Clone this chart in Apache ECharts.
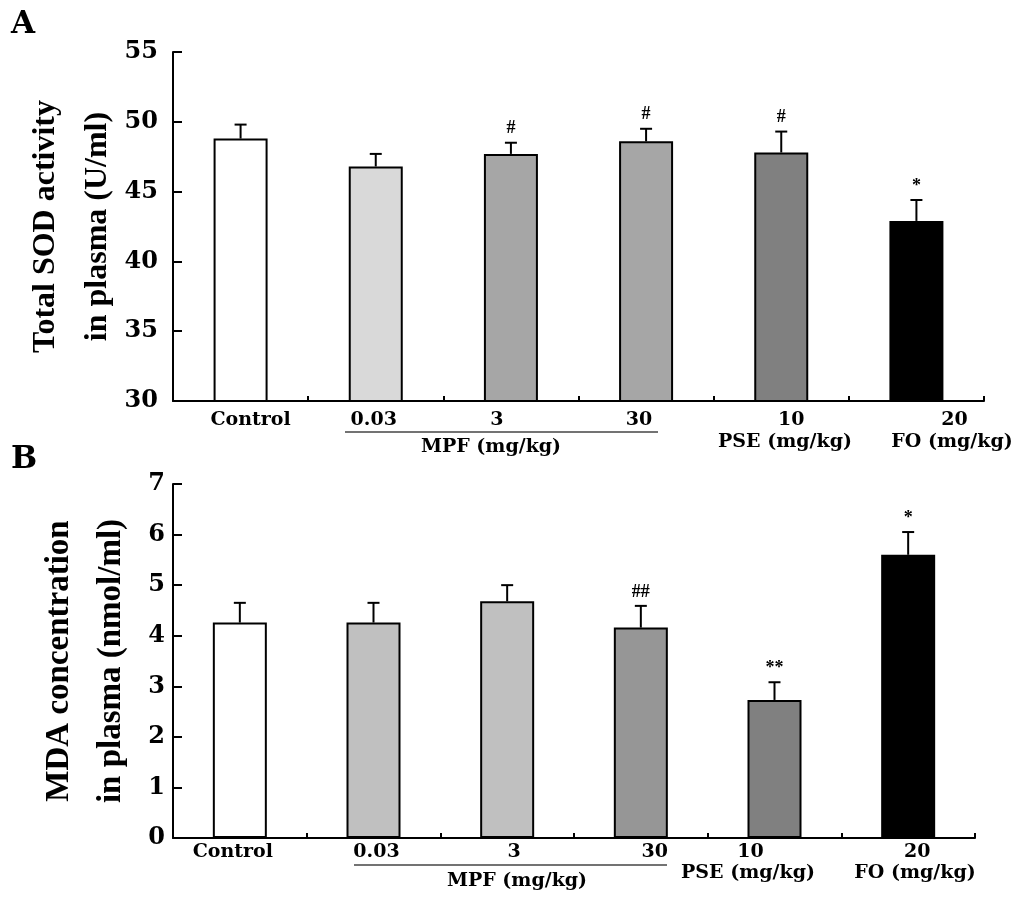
<!DOCTYPE html>
<html>
<head>
<meta charset="utf-8">
<script src="https://cdn.jsdelivr.net/npm/echarts@6/dist/echarts.min.js"></script>
<style>
  html, body { margin: 0; padding: 0; background: #fff; }
  #chart { width: 1024px; height: 904px; }
</style>
</head>
<body>
<div id="chart"></div>
<script>
// categories and values
const catsA = ["Control", "0.03", "3", "30", "10", "20"];
const sodMean = [48.8, 46.8, 47.7, 48.6, 47.8, 42.9];
const sodErr = [1.0, 0.9, 0.8, 0.9, 1.5, 1.5];
const sodMarks = ["", "", "#", "#", "#", "*"];

const catsB = ["Control", "0.03", "3", "30", "10", "20"];
const mdaMean = [4.26, 4.26, 4.68, 4.16, 2.73, 5.6];
const mdaErr = [0.39, 0.39, 0.32, 0.43, 0.35, 0.45];
const mdaMarks = ["", "", "", "##", "**", "*"];

const groupNames = ["MPF (mg/kg)", "PSE (mg/kg)", "FO (mg/kg)"];

const sodTicks = { min: 30, max: 55, interval: 5 };
const mdaTicks = { min: 0, max: 7, interval: 1 };

// styles
const colorsA = ["#ffffff", "#d9d9d9", "#a6a6a6", "#a6a6a6", "#808080", "#000000"];
const colorsB = ["#ffffff", "#c0c0c0", "#c0c0c0", "#969696", "#808080", "#000000"];
const shiftA = [10, -2, -14, -7, 10, 38];
const shiftB = [-7, 3, 7, 14, -24, 9];
const SERIF = '"Liberation Serif", "Times New Roman", serif';
const WIDE = '"DejaVu Serif", serif';

const chart = echarts.init(document.getElementById("chart"), null, { renderer: "canvas" });

function catData(cats, shifts) {
  return cats.map((c, i) => {
    const s = shifts[i];
    return {
      value: c,
      textStyle: { padding: s > 0 ? [0, 0, 0, 2 * s] : [0, -2 * s, 0, 0] }
    };
  });
}

function errRender(marks) {
  return function (params, api) {
    const i = api.value(0);
    const v = api.value(1);
    const e = api.value(2);
    const base = api.coord([i, v]);
    const top = api.coord([i, v + e]);
    const half = 6;
    return {
      type: "group",
      children: [
        { type: "line", shape: { x1: base[0], y1: base[1], x2: top[0], y2: top[1] }, style: { stroke: "#000", lineWidth: 2 } },
        { type: "line", shape: { x1: top[0] - half, y1: top[1], x2: top[0] + half, y2: top[1] }, style: { stroke: "#000", lineWidth: 2 } },
        {
          type: "text",
          style: {
            text: marks[i], x: top[0], y: top[1] - 5,
            align: "center", verticalAlign: "bottom",
            font: "bold 18px " + SERIF, fill: "#000"
          }
        }
      ]
    };
  };
}

const axisLineStyle = { show: true, lineStyle: { color: "#000", width: 2 } };

function xAxis(gridIndex, cats, shifts, margin) {
  return {
    type: "category",
    gridIndex: gridIndex,
    data: catData(cats, shifts),
    axisLine: axisLineStyle,
    axisTick: { show: true, inside: true, length: 5, lineStyle: { color: "#000", width: 2 } },
    axisLabel: {
      interval: 0,
      margin: margin,
      color: "#000",
      fontFamily: WIDE,
      fontWeight: "bold",
      fontSize: 19,
      lineHeight: 24
    },
    splitLine: { show: false }
  };
}

function yAxis(gridIndex, ticks, name, nameGap, nameSize, margin) {
  return {
    type: "value",
    gridIndex: gridIndex,
    min: ticks.min,
    max: ticks.max,
    interval: ticks.interval,
    name: name,
    nameLocation: "middle",
    nameGap: nameGap,
    nameMoveOverlap: false,
    nameTextStyle: {
      color: "#000", fontFamily: SERIF, fontWeight: "bold",
      fontSize: nameSize, lineHeight: 52
    },
    axisLine: axisLineStyle,
    axisTick: { show: true, inside: true, length: 9, lineStyle: { color: "#000", width: 2 } },
    axisLabel: {
      margin: margin, color: "#000", fontFamily: WIDE,
      fontWeight: "bold", fontSize: 24
    },
    splitLine: { show: false }
  };
}

function barSeries(idx, values, colors) {
  return {
    type: "bar",
    xAxisIndex: idx,
    yAxisIndex: idx,
    data: values,
    barWidth: 54,
    itemStyle: {
      color: (p) => colors[p.dataIndex],
      borderColor: "#000",
      borderWidth: 2
    },
    silent: true,
    animation: false
  };
}

function errSeries(idx, values, errs, marks) {
  return {
    type: "custom",
    xAxisIndex: idx,
    yAxisIndex: idx,
    renderItem: errRender(marks),
    data: values.map((v, i) => [i, v, errs[i]]),
    z: 5,
    silent: true,
    animation: false
  };
}

function label(text, x, y, size, family) {
  return {
    type: "text", x: x, y: y,
    style: {
      text: text, align: "center", verticalAlign: "middle",
      font: "bold " + size + "px " + family, fill: "#000"
    }
  };
}

chart.setOption({
  backgroundColor: "#fff",
  animation: false,
  grid: [
    { left: 173, top: 52, width: 811, height: 349 },
    { left: 173, top: 484, width: 802, height: 354 }
  ],
  xAxis: [
    xAxis(0, catsA, shiftA, 7),
    xAxis(1, catsB, shiftB, 2)
  ],
  yAxis: [
    yAxis(0, sodTicks, "Total SOD activity\nin plasma (U/ml)", 49, 32, 15),
    yAxis(1, mdaTicks, "MDA concentration\nin plasma (nmol/ml)", 36, 33, 8)
  ],
  series: [
    barSeries(0, sodMean, colorsA),
    errSeries(0, sodMean, sodErr, sodMarks),
    barSeries(1, mdaMean, colorsB),
    errSeries(1, mdaMean, mdaErr, mdaMarks)
  ],
  graphic: [
    { type: "text", left: 11, top: 9, style: { text: "A", font: "bold 31px " + WIDE, fill: "#000" } },
    { type: "text", left: 11, top: 444, style: { text: "B", font: "bold 31px " + WIDE, fill: "#000" } },
    { type: "line", shape: { x1: 345, y1: 432, x2: 658, y2: 432 }, style: { stroke: "#444", lineWidth: 1.5 } },
    label(groupNames[0], 491, 447, 19, WIDE),
    label(groupNames[1], 785, 442, 19, WIDE),
    label(groupNames[2], 952, 442, 19, WIDE),
    { type: "line", shape: { x1: 354, y1: 865, x2: 667, y2: 865 }, style: { stroke: "#444", lineWidth: 1.5 } },
    label(groupNames[0], 517, 881, 19, WIDE),
    label(groupNames[1], 748, 873, 19, WIDE),
    label(groupNames[2], 915, 873, 19, WIDE)
  ]
});
</script>
</body>
</html>
